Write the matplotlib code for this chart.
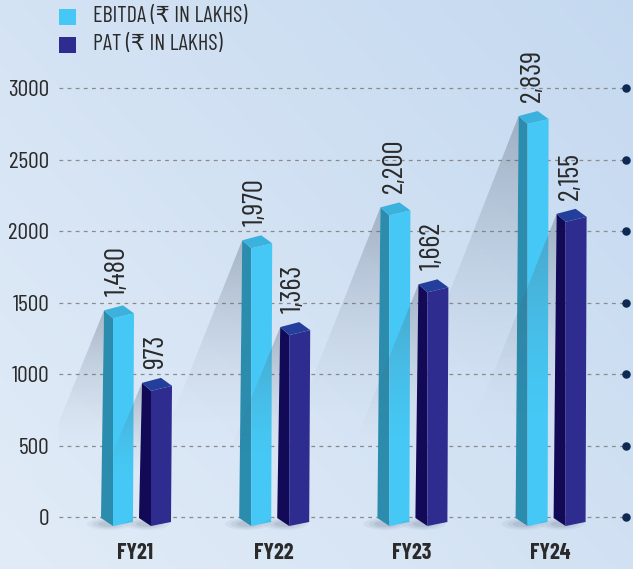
import numpy as np
import matplotlib
matplotlib.use("Agg")
import matplotlib.pyplot as plt
from matplotlib.patches import Polygon, Rectangle, Ellipse

# --- DATA ---
CATEGORIES = ["FY21", "FY22", "FY23", "FY24"]
EBITDA = [1480, 1970, 2200, 2839]
PAT = [973, 1363, 1662, 2155]
Y_TICKS = [0, 500, 1000, 1500, 2000, 2500, 3000]
SERIES = ["EBITDA (₹ IN LAKHS)", "PAT (₹ IN LAKHS)"]

# --- STYLE ---
FONT = ["Barlow Condensed", "DejaVu Sans"]
E_COLORS = {"front": "#45c8f5", "side": "#2b8cae", "top": "#3bb2de"}
P_COLORS = {"front": "#2e2d8f", "side": "#130a57", "top": "#233f9b"}
TEXT = "#2a2a2a"

W, H = 633, 569
# pixel layout of the plotting area
AX_L, AX_R, AX_T, AX_B = 59, 626, 60, 540
ZERO_PX, TOP_PX = 517, 88          # pixel rows of 0 and 3000
C0_PX, STEP_PX = 135.5, 138.2      # first category centre / spacing

PY = 3000 / (ZERO_PX - TOP_PX)      # data units per pixel (y)
PX = 1 / STEP_PX                    # data units per pixel (x)

fig = plt.figure(figsize=(W / 100, H / 100), dpi=100)

# background gradient
bg = fig.add_axes([0, 0, 1, 1], zorder=-10)
gx, gy = np.meshgrid(np.linspace(0, 1, 200), np.linspace(0, 1, 200))
t = np.clip(0.55 * gx + 0.45 * gy, 0, 1)[..., None]
c_lo = np.array([0.885, 0.925, 0.970])
c_hi = np.array([0.770, 0.850, 0.940])
bg.imshow(c_lo + (c_hi - c_lo) * t, origin="lower", extent=(0, 1, 0, 1), aspect="auto")
bg.axis("off")

ax = fig.add_axes([AX_L / W, 1 - AX_B / H, (AX_R - AX_L) / W, (AX_B - AX_T) / H])
ax.set_facecolor("none")
xlim = ((AX_L - C0_PX) * PX, (AX_R - C0_PX) * PX)
ylim = (-(AX_B - ZERO_PX) * PY, (ZERO_PX - AX_T) * PY)


def cast_shadow(L, val, z, slope=0.38):
    hp = val / PY
    reach = slope * hp * PX
    top_y = val - 5 * PY
    poly = Polygon([(L + 3 * PX, top_y), (L - reach, 0), (L, 0)],
                   closed=True, facecolor="none", edgecolor="none")
    ax.add_patch(poly)
    frac = np.linspace(0, 1, 150)
    grad = np.zeros((150, 1, 4))
    grad[..., :3] = [0.33, 0.38, 0.45]
    grad[:, 0, 3] = 0.36 * np.clip((frac - 0.3) / 0.7, 0, 1) ** 1.6
    im = ax.imshow(grad, extent=(L - reach, L + 3 * PX, 0, top_y), origin="lower",
                   aspect="auto", interpolation="bilinear", zorder=z)
    im.set_clip_path(poly)
    # soft contact shadow at the base
    for k, a in zip([1.0, 0.75, 0.5], [0.06, 0.08, 0.10]):
        ax.add_patch(Ellipse((L + 8 * PX, -7 * PY), 44 * PX * k, 12 * PY * k,
                             facecolor="#3a4a60", edgecolor="none", alpha=a, zorder=z))


def prism(L, val, colors, z):
    def p(dx, dy, base=False):
        return (L + dx * PX, (0 if base else val) - dy * PY)
    side = [p(3, 5), p(12, 13), p(12, 9, True), p(0, 1, True)]
    front = [p(12, 13), p(33, 8), p(32, 5, True), p(12, 9, True)]
    top = [p(3, 5), p(22, 0), p(33, 8), p(12, 13)]
    for pts, key in [(side, "side"), (front, "front"), (top, "top")]:
        ax.add_patch(Polygon(pts, closed=True, facecolor=colors[key],
                             edgecolor="none", zorder=z))
    ax.text(L + 17 * PX, val + 9 * PY, f"{val:,}", rotation=90, ha="center", va="bottom",
            fontsize=21, color=TEXT, family=FONT, zorder=z + 1)


for i, (e, p_) in enumerate(zip(EBITDA, PAT)):
    Le = i - 34.5 * PX
    Lp = i + 3.5 * PX
    cast_shadow(Le, e, 2)
    prism(Le, e, E_COLORS, 3)
    cast_shadow(Lp, p_, 5)
    prism(Lp, p_, P_COLORS, 6)

# grid + end dots
ax.set_yticks(Y_TICKS)
ax.set_yticklabels([str(v) for v in Y_TICKS], family=FONT, fontsize=17, color=TEXT)
for v in Y_TICKS:
    ax.axhline(v, color="#8a8a8a", lw=0.9, linestyle=(0, (3, 3.5)), zorder=1)
ax.scatter([xlim[1]] * len(Y_TICKS), Y_TICKS, s=26, color="#0e2a52", clip_on=False, zorder=10)

ax.set_xticks(range(len(CATEGORIES)))
ax.set_xticklabels(CATEGORIES, family=FONT, fontsize=16, fontweight="bold", color=TEXT)
ax.tick_params(length=0)
ax.tick_params(axis="y", pad=7)
ax.tick_params(axis="x", pad=2)
for s in ax.spines.values():
    s.set_visible(False)
ax.set_xlim(xlim)
ax.set_ylim(ylim)

# legend
for j, (name, col) in enumerate(zip(SERIES, [E_COLORS["front"], P_COLORS["front"]])):
    yc = 17 + 28 * j
    fig.add_artist(Rectangle((59 / W, 1 - (yc + 8) / H), 17 / W, 16 / H,
                             transform=fig.transFigure, facecolor=col, edgecolor="none"))
    fig.text(93 / W, 1 - yc / H, name, ha="left", va="center", fontsize=16,
             color=TEXT, family=FONT)

fig.savefig("out.png", dpi=100)
